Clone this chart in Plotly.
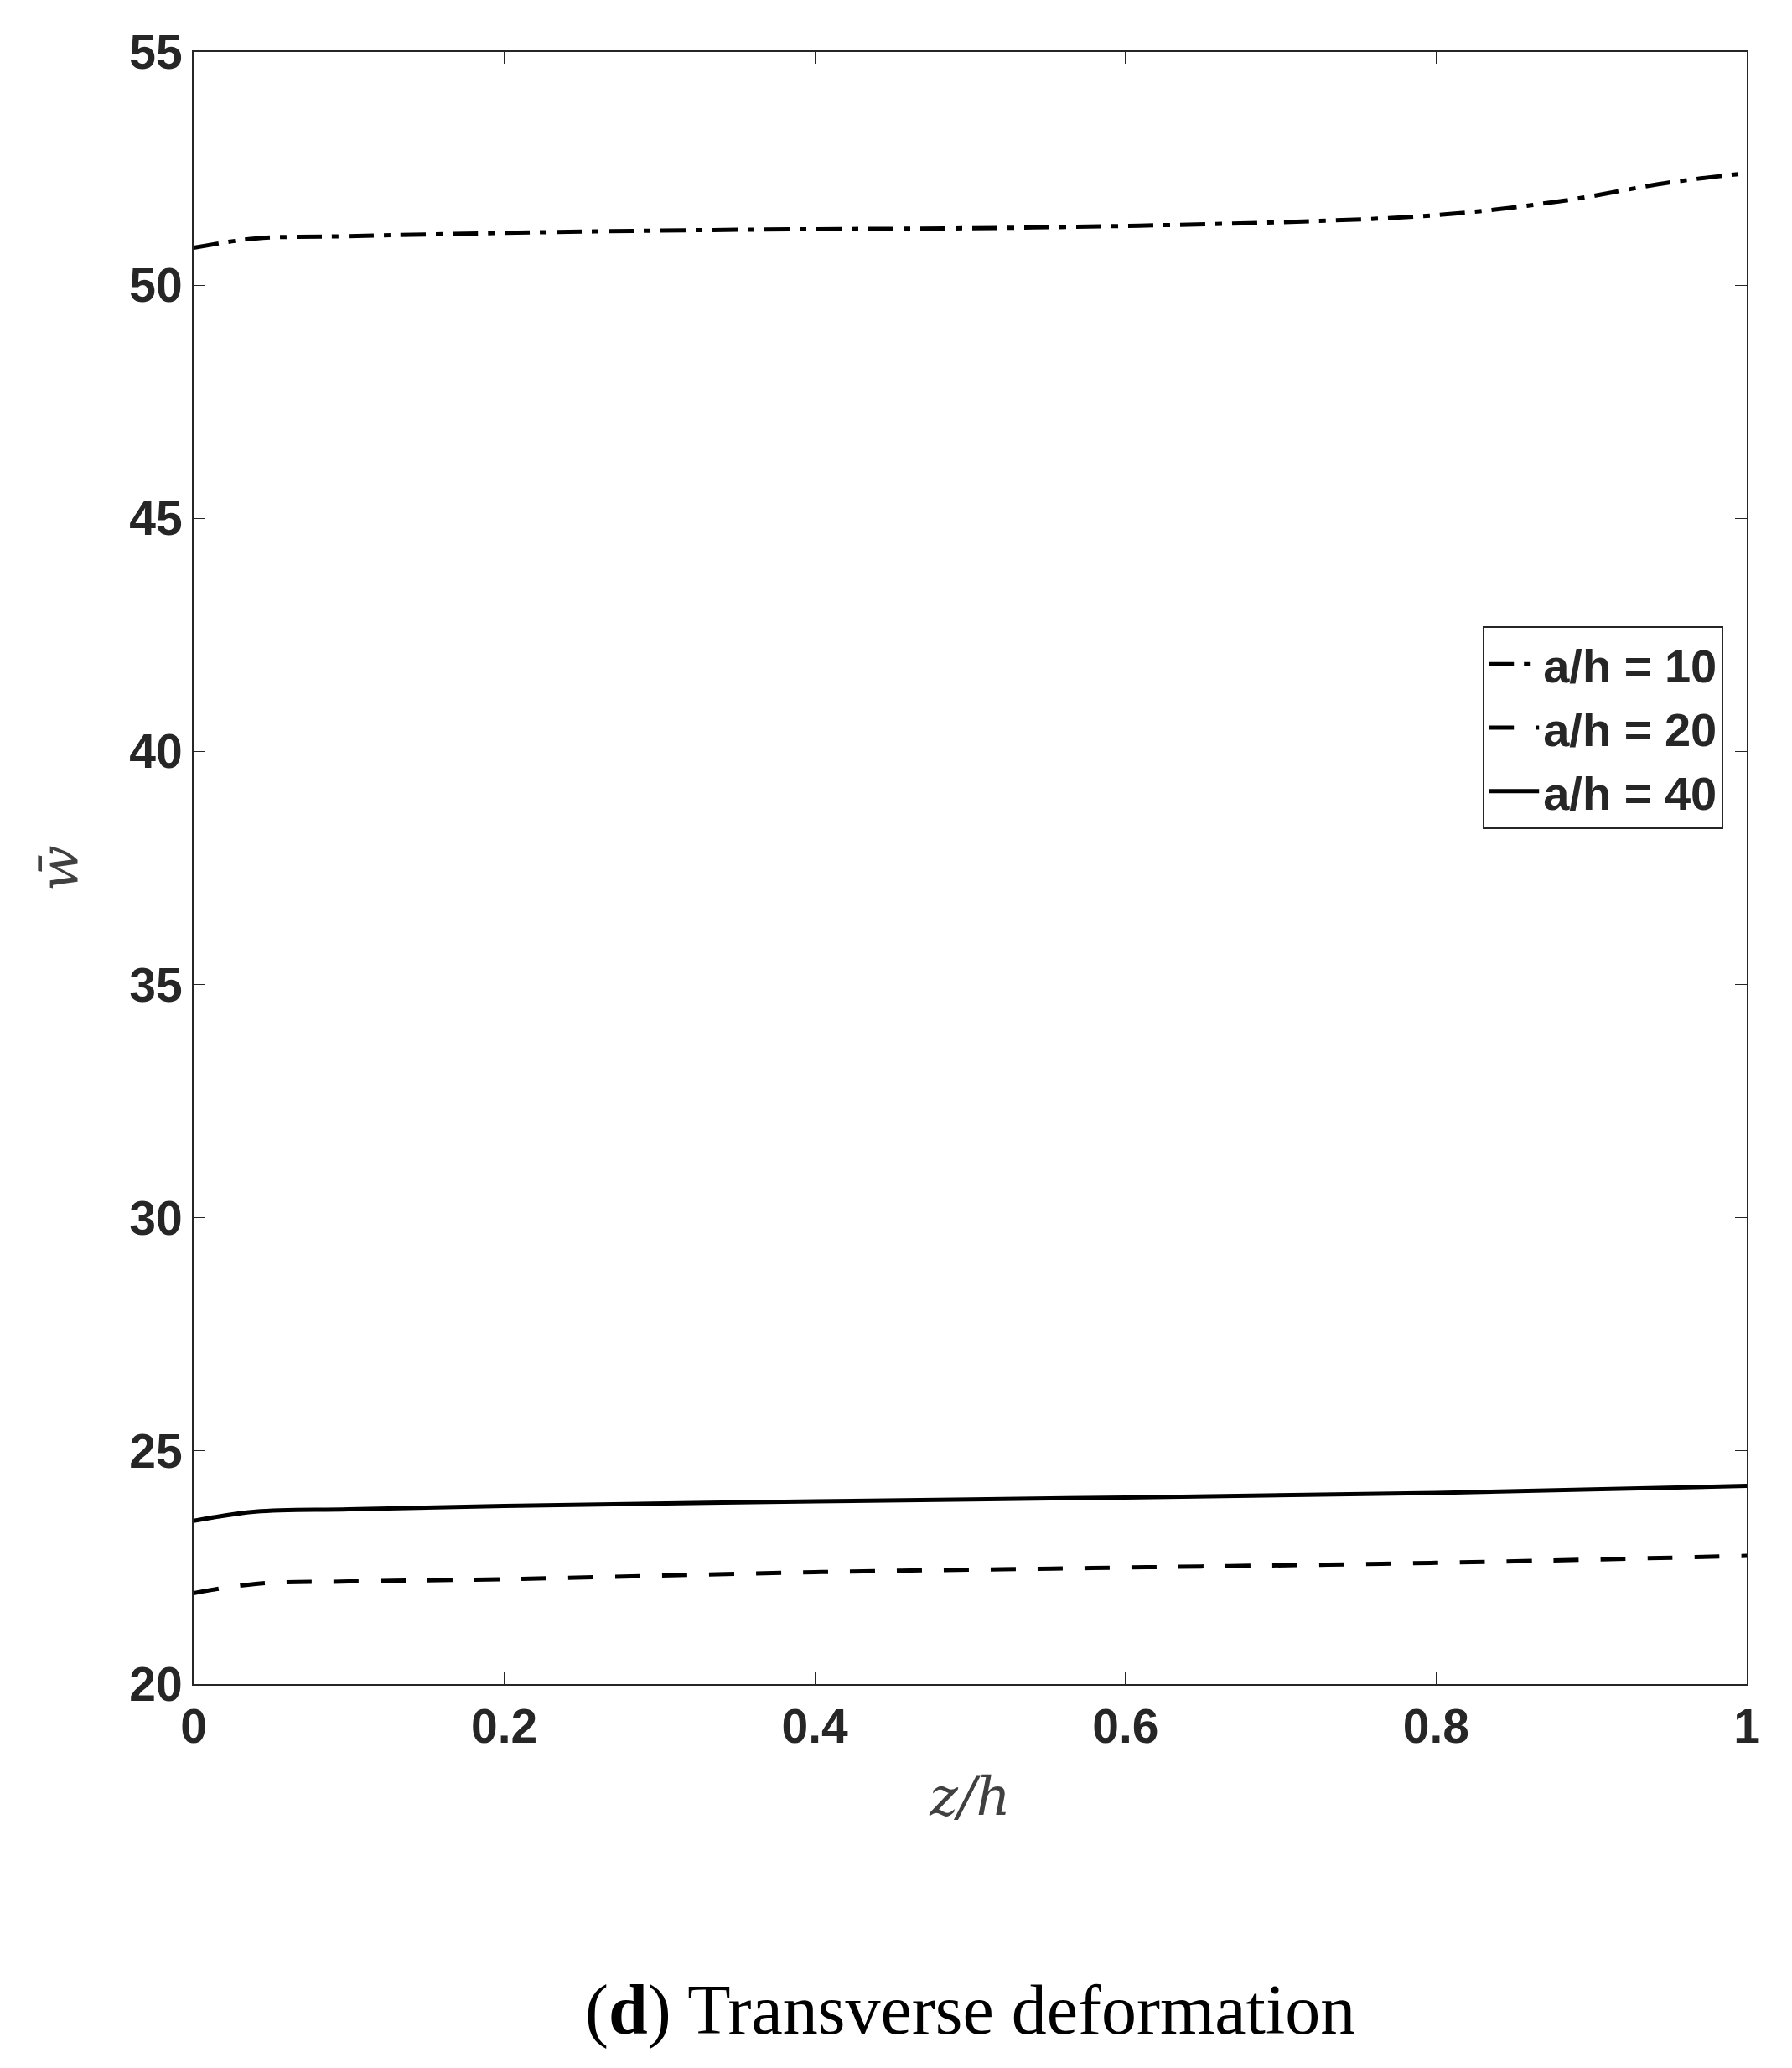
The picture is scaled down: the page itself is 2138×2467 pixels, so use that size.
import plotly.graph_objects as go

x10 = [0, 0.04, 0.1, 0.2, 0.3, 0.4, 0.5, 0.6, 0.7, 0.8, 0.88, 0.95, 1.0]
y10 = [50.8, 51.0, 51.05, 51.12, 51.17, 51.2, 51.22, 51.27, 51.35, 51.5, 51.8, 52.2, 52.4]
x20 = [0, 0.04, 0.1, 0.2, 0.4, 0.6, 0.8, 1.0]
y20 = [21.95, 22.15, 22.2, 22.25, 22.4, 22.5, 22.6, 22.75]
x40 = [0, 0.04, 0.1, 0.2, 0.4, 0.6, 0.8, 1.0]
y40 = [23.5, 23.7, 23.75, 23.82, 23.92, 24.0, 24.1, 24.25]
names = ["<b>a/h = 10</b>", "<b>a/h = 20</b>", "<b>a/h = 40</b>"]
dashes = ["30px,12px,8px,12px", "30px,26px", "solid"]

fig = go.Figure()
for xs, ys, n, d in zip([x10, x20, x40], [y10, y20, y40], names, dashes):
    fig.add_trace(go.Scatter(x=xs, y=ys, mode="lines", name=n,
                             line=dict(color="black", width=5, dash=d, shape="spline")))

tickfont = dict(family="Liberation Sans", size=57, color="#262626")
fig.update_layout(
    width=2138, height=2467, paper_bgcolor="white", plot_bgcolor="white",
    margin=dict(l=223, r=62, t=54, b=466),
    font=dict(family="Liberation Sans", color="#262626"),
    legend=dict(x=0.985, y=0.648, xanchor="right", yanchor="top",
                bordercolor="#262626", borderwidth=2, bgcolor="white",
                font=dict(family="Liberation Sans", size=56, color="#262626"),
                itemwidth=60, tracegroupgap=4),
    showlegend=True,
)
fig.update_xaxes(range=[0, 1], tickvals=[0, 0.2, 0.4, 0.6, 0.8, 1],
                 ticktext=["<b>0</b>", "<b>0.2</b>", "<b>0.4</b>", "<b>0.6</b>", "<b>0.8</b>", "<b>1</b>"],
                 tickfont=tickfont, ticks="inside", ticklen=14, tickcolor="#262626",
                 showline=True, linecolor="#262626", linewidth=2, mirror="ticks",
                 showgrid=False, zeroline=False,
                 title=dict(text="<i>z/h</i>", font=dict(family="DejaVu Serif", size=64, color="#404040"), standoff=30))
yv = [20, 25, 30, 35, 40, 45, 50, 55]
fig.update_yaxes(range=[20, 55], tickvals=yv, ticktext=[f"<b>{v}</b>" for v in yv],
                 tickfont=tickfont, ticks="inside", ticklen=14, tickcolor="#262626",
                 showline=True, linecolor="#262626", linewidth=2, mirror="ticks",
                 showgrid=False, zeroline=False,
                 title=dict(text="<i>w̄</i>", font=dict(family="DejaVu Serif", size=64, color="#404040"), standoff=40))
fig.add_annotation(text="(<b>d</b>) Transverse deformation", xref="paper", yref="paper",
                   x=0.5, y=-0.2, xanchor="center", yanchor="middle", showarrow=False,
                   font=dict(family="Liberation Serif", size=84, color="black"))
fig.write_html("out.html")
